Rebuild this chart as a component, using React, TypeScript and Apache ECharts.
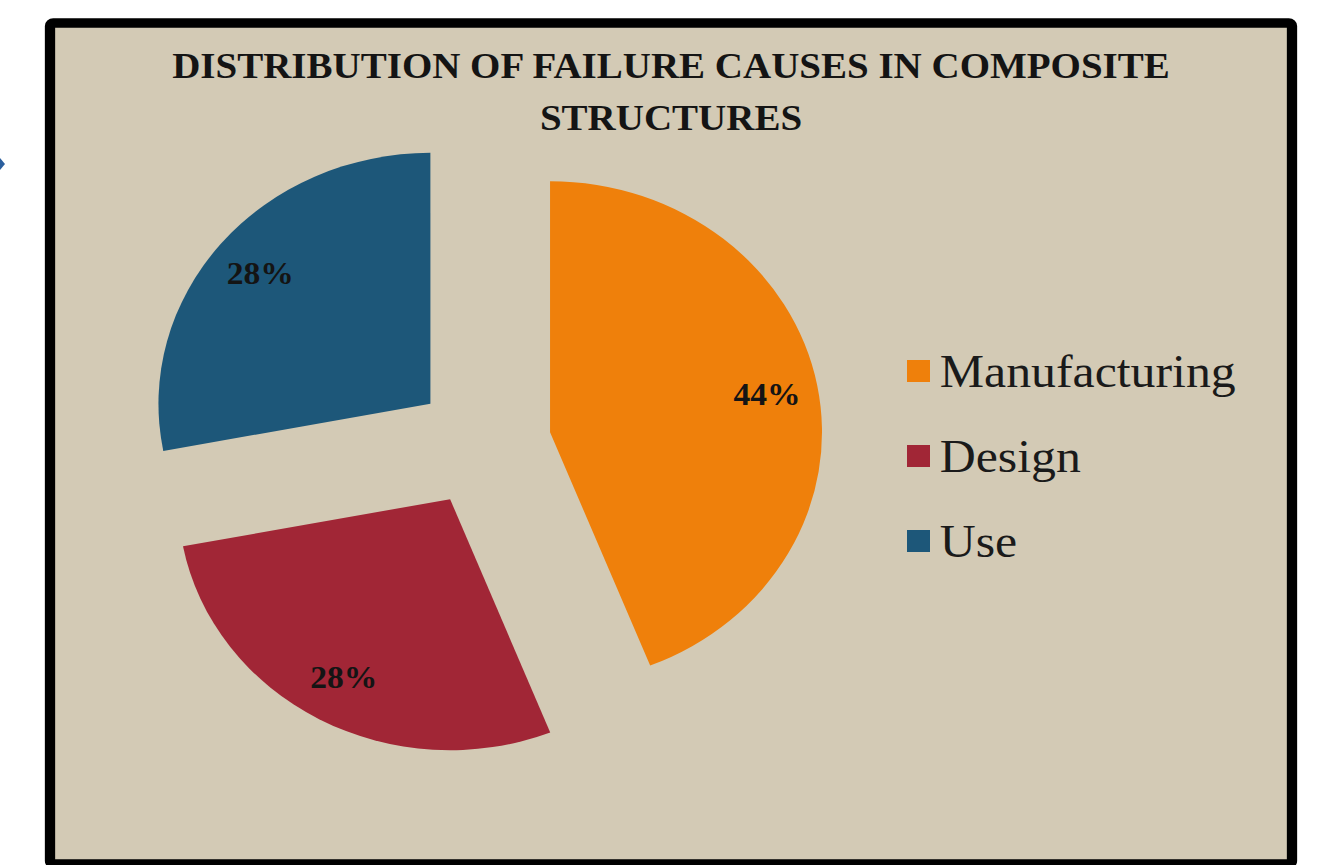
import React, { useEffect, useRef } from 'react';
import * as echarts from 'echarts';

// ---- data ----
const categories = ['Manufacturing', 'Design', 'Use'];
const shares = [44, 28, 28];
const colors = ['#ef800b', '#a12636', '#1d5779'];
const titleText = 'DISTRIBUTION OF FAILURE CAUSES IN COMPOSITE\nSTRUCTURES';

// The reference is horizontally stretched; the chart is drawn on a narrower
// canvas and stretched with CSS so the pie becomes the same ellipse.
const CW = 1222;
const CH = 865;
const STRETCH = 1324 / CW;
const FONT = '"Liberation Serif", "Times New Roman", Times, serif';

export default function App() {
  const ref = useRef<HTMLDivElement>(null);

  useEffect(() => {
    const chart = echarts.init(ref.current!, null, { renderer: 'svg' });
    const sx = (x: number) => x / STRETCH;
    const center = [sx(483), 444];
    const R = 251;

    const pieData = categories.map((name, i) => ({
      name,
      value: shares[i],
      selected: true,
      itemStyle: { color: colors[i] },
      select: { itemStyle: { color: colors[i] } },
    }));
    const labelData = categories.map((name, i) => ({
      name,
      value: shares[i],
      selected: true,
    }));

    chart.setOption({
      animation: false,
      backgroundColor: '#ffffff',
      graphic: [
        {
          type: 'rect',
          z: -10,
          shape: { x: sx(50), y: 23, width: sx(1292) - sx(50), height: 841, r: 3 },
          style: { fill: '#d3cab5', stroke: '#000000', lineWidth: 9.5 },
        },
        {
          type: 'polygon',
          z: -10,
          shape: { points: [[0, 158], [sx(5), 164], [0, 170]] },
          style: { fill: '#2b5f9e' },
        },
      ],
      title: {
        text: titleText,
        left: sx(671),
        top: 40,
        textAlign: 'center',
        padding: 0,
        textStyle: {
          fontFamily: FONT,
          fontWeight: 'bold',
          fontSize: 36,
          lineHeight: 52,
          color: '#141414',
        },
      },
      legend: {
        orient: 'vertical',
        left: sx(907),
        top: 346,
        padding: 0,
        itemWidth: sx(23),
        itemHeight: 22,
        itemGap: 35,
        icon: 'rect',
        selectedMode: false,
        textStyle: {
          fontFamily: FONT,
          fontSize: 46,
          lineHeight: 50,
          color: '#1a1a1a',
          padding: [0, 0, 0, 4],
        },
        data: categories.map((name, i) => ({ name, itemStyle: { color: colors[i] } })),
      },
      series: [
        {
          type: 'pie',
          name: 'slices',
          center,
          radius: [0, R],
          startAngle: 90,
          clockwise: true,
          selectedMode: 'multiple',
          selectedOffset: 63,
          silent: true,
          label: { show: false },
          labelLine: { show: false },
          emphasis: { disabled: true },
          data: pieData,
        },
        {
          type: 'pie',
          name: 'labels',
          center,
          radius: [R * 0.6, R],
          startAngle: 90,
          clockwise: true,
          selectedMode: 'multiple',
          selectedOffset: 63,
          silent: true,
          itemStyle: { color: 'rgba(0,0,0,0)' },
          select: { itemStyle: { color: 'rgba(0,0,0,0)' } },
          emphasis: { disabled: true },
          labelLine: { show: false },
          label: {
            show: true,
            position: 'inside',
            formatter: '{d}%',
            fontFamily: FONT,
            fontWeight: 'bold',
            fontSize: 31,
            color: '#141414',
          },
          data: labelData,
        },
      ],
    });

    return () => chart.dispose();
  }, []);

  return (
    <div
      ref={ref}
      style={{
        position: 'fixed',
        left: 0,
        top: 0,
        width: CW,
        height: CH,
        transform: `scaleX(${STRETCH})`,
        transformOrigin: '0 0',
      }}
    />
  );
}
